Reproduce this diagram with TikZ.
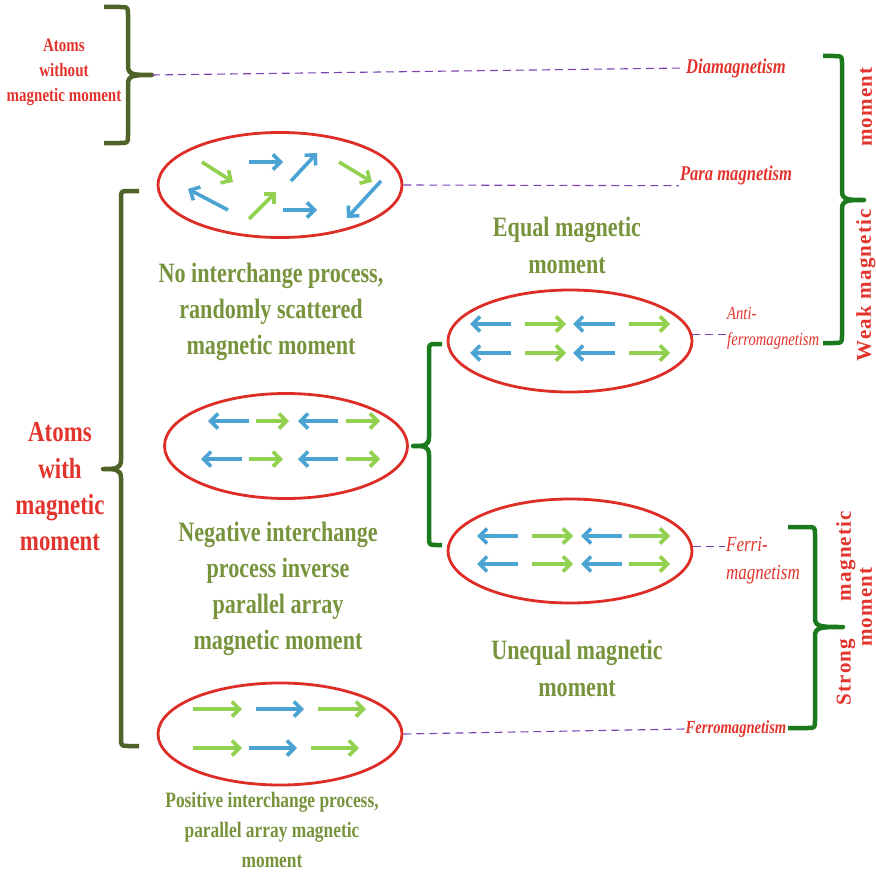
\documentclass[tikz,border=0pt]{standalone}
\usepackage{fontspec}
\setmainfont{Liberation Serif}
\newfontfamily\cond[FakeStretch=0.79]{Liberation Serif}
\newfontfamily\spaced[LetterSpace=6]{Liberation Serif}
\usetikzlibrary{arrows.meta,shapes.geometric}
\definecolor{tred}{RGB}{226,52,44}
\definecolor{olivetxt}{RGB}{119,147,60}
\definecolor{ellred}{RGB}{222,45,38}
\definecolor{bracolive}{RGB}{79,98,40}
\definecolor{bracgreen}{RGB}{28,122,30}
\definecolor{dashpurple}{RGB}{125,65,180}
\definecolor{arrblue}{RGB}{75,163,211}
\definecolor{arrgreen}{RGB}{146,208,80}
\tikzset{
  ell/.style={ellipse, draw=ellred, line width=2.8pt, inner sep=0pt},
  vec/.style={line width=3.6pt, -{Straight Barb[length=7.5pt,width=15pt]}},
  bv/.style={vec, draw=arrblue},
  gv/.style={vec, draw=arrgreen},
  link/.style={draw=dashpurple, line width=1.1pt, dash pattern=on 8pt off 5pt},
  olbrace/.style={draw=bracolive, line width=4.5pt, line join=round},
  grbrace/.style={draw=bracgreen, line width=4.5pt, line join=round},
  redtxt/.style={text=tred, align=center, inner sep=1pt},
  olivetext/.style={text=olivetxt, align=center, inner sep=1pt},
  itlbl/.style={text=tred, align=left, inner sep=1pt},
  rottxt/.style={text=tred, rotate=90, inner sep=1pt, font=\spaced\bfseries\fontsize{21}{24}\selectfont},
}
\begin{document}
\begin{tikzpicture}[x=1pt,y=-1pt]
\useasboundingbox (0,0) rectangle (876,875);

% ellipses
\node[ell, minimum width=244pt, minimum height=105pt] (e1) at (280,185) {};
\node[ell, minimum width=243pt, minimum height=105pt] (e2) at (286,446) {};
\node[ell, minimum width=244pt, minimum height=102pt] (e3) at (280,734) {};
\node[ell, minimum width=244pt, minimum height=102pt] (e4) at (570,341) {};
\node[ell, minimum width=244pt, minimum height=104pt] (e5) at (570,551) {};

% arrows in e1 (random)
\draw[gv] (202,162) -- (233,182);
\draw[bv] (249,162) -- (283,162);
\draw[bv] (291,181) -- (317,153);
\draw[gv] (339,162) -- (372,182);
\draw[bv] (228,210) -- (188,189);
\draw[gv] (249,219) -- (276,192);
\draw[bv] (283,210) -- (317,210);
\draw[bv] (381,181) -- (347,218);

% arrows in e2
\draw[bv] (249,421) -- (208,421);
\draw[bv] (242,459) -- (201,459);
\draw[gv] (256,421) -- (289,421);
\draw[gv] (249,459) -- (283,459);
\foreach \y in {421,459} {
  \draw[bv] (338,\y) -- (298,\y);
  \draw[gv] (346,\y) -- (380,\y);
}

% arrows in e4
\foreach \y in {324,353} {
  \draw[bv] (511,\y) -- (470,\y);
  \draw[gv] (525,\y) -- (566,\y);
  \draw[bv] (615,\y) -- (573,\y);
  \draw[gv] (629,\y) -- (670,\y);
}

% arrows in e5
\foreach \y in {536,564} {
  \draw[bv] (518,\y) -- (477,\y);
  \draw[gv] (532,\y) -- (573,\y);
  \draw[bv] (622,\y) -- (581,\y);
  \draw[gv] (629,\y) -- (670,\y);
}

% arrows in e3
\draw[gv] (193,709) -- (242,709);
\draw[bv] (256,709) -- (304,709);
\draw[gv] (318,709) -- (366,709);
\draw[gv] (193,748) -- (242,748);
\draw[bv] (249,748) -- (297,748);
\draw[gv] (311,748) -- (359,748);

% braces
\coordinate (tipA) at (152,75);
\draw[olbrace] (104,7) -- (120,7) .. controls (128,7) .. (128,15) -- (128,66)
  .. controls (128,75) and (134,75) .. (tipA)
  .. controls (134,75) and (128,75) .. (128,84) -- (128,135)
  .. controls (128,143) .. (120,143) -- (104,143);

\coordinate (tipB) at (103,469);
\draw[olbrace] (139,191) -- (129,191) .. controls (121,191) .. (121,199) -- (121,460)
  .. controls (121,469) and (115,469) .. (tipB)
  .. controls (115,469) and (121,469) .. (121,478) -- (121,738)
  .. controls (121,746) .. (129,746) -- (139,746);

\coordinate (tipC) at (413,446);
\draw[grbrace] (442,344) -- (437,344) .. controls (429,344) .. (429,352) -- (429,437)
  .. controls (429,446) and (424,446) .. (tipC)
  .. controls (424,446) and (429,446) .. (429,455) -- (429,537)
  .. controls (429,545) .. (437,545) -- (442,545);

\coordinate (tipD) at (864,200);
\draw[grbrace] (823,56) -- (834,56) .. controls (842,56) .. (842,64) -- (842,191)
  .. controls (842,200) and (848,200) .. (tipD)
  .. controls (848,200) and (842,200) .. (842,209) -- (842,335)
  .. controls (842,343) .. (834,343) -- (823,343);

\coordinate (tipE) at (843,627);
\draw[grbrace] (788,527) -- (807,527) .. controls (815,527) .. (815,535) -- (815,618)
  .. controls (815,627) and (821,627) .. (tipE)
  .. controls (821,627) and (815,627) .. (815,636) -- (815,720)
  .. controls (815,728) .. (807,728) -- (788,728);

% left texts
\node[redtxt, font=\cond\bfseries\fontsize{19}{25}\selectfont] (atomsA) at (64,72) {Atoms\\without\\magnetic moment};
\node[redtxt, font=\cond\bfseries\fontsize{29}{36.3}\selectfont] (atomsB) at (60,487) {Atoms\\with\\magnetic\\moment};

% olive descriptions
\node[olivetext, font=\cond\bfseries\fontsize{28}{36}\selectfont] (noint) at (271,312) {No interchange process,\\randomly scattered\\magnetic moment};
\node[olivetext, font=\cond\bfseries\fontsize{28}{36}\selectfont] (negint) at (278,589) {Negative interchange\\process inverse\\parallel array\\magnetic moment};
\node[olivetext, font=\cond\bfseries\fontsize{22}{30}\selectfont] (posint) at (272,830) {Positive interchange process,\\parallel array magnetic\\moment};
\node[olivetext, font=\cond\bfseries\fontsize{28}{37}\selectfont] (equal) at (567,245) {Equal magnetic\\moment};
\node[olivetext, font=\cond\bfseries\fontsize{28}{37}\selectfont] (unequal) at (577,668) {Unequal magnetic\\moment};

% italic labels
\node[itlbl, font=\cond\bfseries\itshape\fontsize{21}{26}\selectfont] (dia) at (736,68) {Diamagnetism};
\node[itlbl, font=\cond\bfseries\itshape\fontsize{21}{26}\selectfont] (para) at (736,175) {Para magnetism};
\node[itlbl, anchor=west, font=\cond\itshape\fontsize{18.5}{26}\selectfont] (anti) at (726,328) {Anti-\\ferromagnetism};
\node[itlbl, anchor=west, font=\cond\itshape\fontsize{21.5}{28}\selectfont] (ferri) at (725,561) {Ferri-\\magnetism};
\node[itlbl, font=\cond\bfseries\itshape\fontsize{18.5}{24}\selectfont] (ferro) at (736,729) {Ferromagnetism};

% rotated labels
\node[rottxt] (weak1) at (866,285) {Weak magnetic};
\node[rottxt] (weak2) at (866,107) {moment};
\node[rottxt] (strong1) at (846,672) {Strong};
\node[rottxt] (strong2) at (846,556) {magnetic};
\node[rottxt] (strong3) at (866,607) {moment};

% dashed links
\draw[link] (tipA) -- (dia.west);
\draw[link] (e1.east) -- (para.south west);
\draw[link] (e4.3) -- (e4.3 -| anti.west);
\draw[link] (e5.2) -- (e5.2 -| ferri.west);
\draw[link] (e3.east) -- (ferro.west);
\end{tikzpicture}
\end{document}
